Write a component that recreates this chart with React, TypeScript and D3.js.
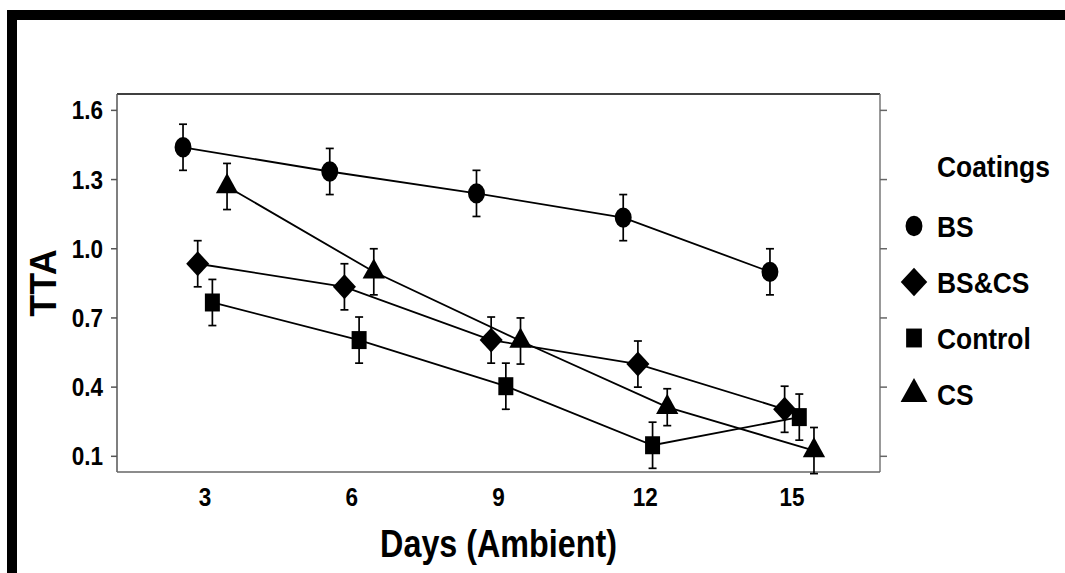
import React from 'react';
import * as d3 from 'd3';

const days = [3, 6, 9, 12, 15];
const yTicks = [0.1, 0.4, 0.7, 1.0, 1.3, 1.6];

const seriesNames = ['BS', 'BS&CS', 'Control', 'CS'];
const bsValues = [1.44, 1.335, 1.24, 1.135, 0.9];
const bsCsValues = [0.935, 0.835, 0.604, 0.5, 0.304];
const controlValues = [0.767, 0.604, 0.404, 0.148, 0.27];
const csValues = [1.27, 0.9, 0.6, 0.313, 0.125];

const bsErr = [0.1, 0.1, 0.1, 0.1, 0.1];
const bsCsErr = [0.1, 0.1, 0.1, 0.1, 0.1];
const controlErr = [0.1, 0.1, 0.1, 0.1, 0.1];
const csErr = [0.1, 0.1, 0.1, 0.08, 0.1];

// horizontal dodge of each group (in days)
const dodge = [-0.45, -0.15, 0.15, 0.45];

const W = 1065;
const H = 573;
const margin = { top: 94, right: 185, bottom: 101, left: 117 };
const FONT = "'Liberation Sans', Arial, sans-serif";

// symbol, d3 size, x/y stretch (the original picture is a bit taller than wide)
type Shape = { sym: d3.SymbolType; size: number; sx: number; sy: number; legend: number };
const shapes: Shape[] = [
  { sym: d3.symbolCircle, size: 100, sx: 1.5, sy: 1.8, legend: 1.0 },
  { sym: d3.symbolDiamond, size: 260, sx: 1.33, sy: 0.83, legend: 1.15 },
  { sym: d3.symbolSquare, size: 100, sx: 1.5, sy: 1.8, legend: 1.05 },
  { sym: d3.symbolTriangle, size: 150, sx: 1.2, sy: 1.25, legend: 1.2 },
];

function Marker({ i, x, y, k = 1 }: { i: number; x: number; y: number; k?: number }) {
  const s = shapes[i];
  const path = d3.symbol().type(s.sym).size(s.size)() || '';
  return <path d={path} transform={`translate(${x},${y}) scale(${s.sx * k},${s.sy * k})`} fill="#000" />;
}

export default function App() {
  const values = [bsValues, bsCsValues, controlValues, csValues];
  const errs = [bsErr, bsCsErr, controlErr, csErr];

  const x = d3.scaleLinear().domain([1.2, 16.8]).range([margin.left, W - margin.right]);
  const y = d3.scaleLinear().domain([0.032, 1.671]).range([H - margin.bottom, margin.top]);

  const line = d3
    .line<[number, number]>()
    .x((d) => x(d[0]))
    .y((d) => y(d[1]));

  const [x0, x1] = x.range();
  const [y0, y1] = y.range();

  return (
    <svg
      width={W}
      height={H}
      style={{ position: 'absolute', left: 0, top: 0, background: '#fff' }}
      fontFamily={FONT}
    >
      {/* outer frame */}
      <rect x={12} y={15} width={W + 40} height={H + 40} fill="none" stroke="#000" strokeWidth={10} />

      {/* plot frame */}
      <line x1={x0} x2={x1} y1={y1} y2={y1} stroke="#000" strokeWidth={1.5} />
      <line x1={x0} x2={x0} y1={y1} y2={y0} stroke="#555" strokeWidth={1.5} />
      <line x1={x1} x2={x1} y1={y1} y2={y0} stroke="#777" strokeWidth={1.5} />
      <line x1={x0} x2={x1} y1={y0} y2={y0} stroke="#666" strokeWidth={1.5} />

      {/* y ticks, left and right */}
      {yTicks.map((t) => (
        <g key={t}>
          <line x1={x0 - 6} x2={x0} y1={y(t)} y2={y(t)} stroke="#555" strokeWidth={1.5} />
          <line x1={x1} x2={x1 + 7} y1={y(t)} y2={y(t)} stroke="#666" strokeWidth={1.5} />
          <text
            transform={`translate(${x0 - 14},${y(t)}) scale(0.9,1)`}
            dy="0.36em"
            textAnchor="end"
            fontSize={25}
            fontWeight="bold"
          >
            {t.toFixed(1)}
          </text>
        </g>
      ))}

      {/* x tick labels */}
      {days.map((d) => (
        <text
          key={d}
          transform={`translate(${x(d)},${y0 + 34}) scale(0.9,1)`}
          textAnchor="middle"
          fontSize={25}
          fontWeight="bold"
        >
          {d}
        </text>
      ))}

      {/* axis titles */}
      <text
        transform={`translate(${(x0 + x1) / 2},557) scale(0.85,1)`}
        textAnchor="middle"
        fontSize={38}
        fontWeight="bold"
      >
        Days (Ambient)
      </text>
      <text
        transform={`translate(56,283) rotate(-90)`}
        textAnchor="middle"
        fontSize={36}
        fontWeight="bold"
      >
        TTA
      </text>

      {/* series lines */}
      {values.map((vals, i) => (
        <path
          key={'l' + i}
          d={line(vals.map((v, j) => [days[j] + dodge[i], v] as [number, number])) || ''}
          fill="none"
          stroke="#000"
          strokeWidth={1.8}
        />
      ))}

      {/* error bars */}
      {values.map((vals, i) =>
        vals.map((v, j) => {
          const cx = x(days[j] + dodge[i]);
          const top = y(v + errs[i][j]);
          const bot = y(v - errs[i][j]);
          return (
            <g key={`e${i}-${j}`} stroke="#000" strokeWidth={1.7}>
              <line x1={cx} x2={cx} y1={top} y2={bot} />
              <line x1={cx - 4} x2={cx + 4} y1={top} y2={top} />
              <line x1={cx - 4} x2={cx + 4} y1={bot} y2={bot} />
            </g>
          );
        })
      )}

      {/* markers */}
      {values.map((vals, i) =>
        vals.map((v, j) => <Marker key={`m${i}-${j}`} i={i} x={x(days[j] + dodge[i])} y={y(v)} />)
      )}

      {/* legend */}
      <g>
        <text transform="translate(937,177) scale(0.88,1)" fontSize={30} fontWeight="bold">
          Coatings
        </text>
        {seriesNames.map((name, i) => (
          <g key={name}>
            <Marker i={i} x={914} y={226 + i * 56} k={shapes[i].legend} />
            <text
              transform={`translate(937,${226 + i * 56}) scale(0.88,1)`}
              dy="0.36em"
              fontSize={30}
              fontWeight="bold"
            >
              {name}
            </text>
          </g>
        ))}
      </g>
    </svg>
  );
}
